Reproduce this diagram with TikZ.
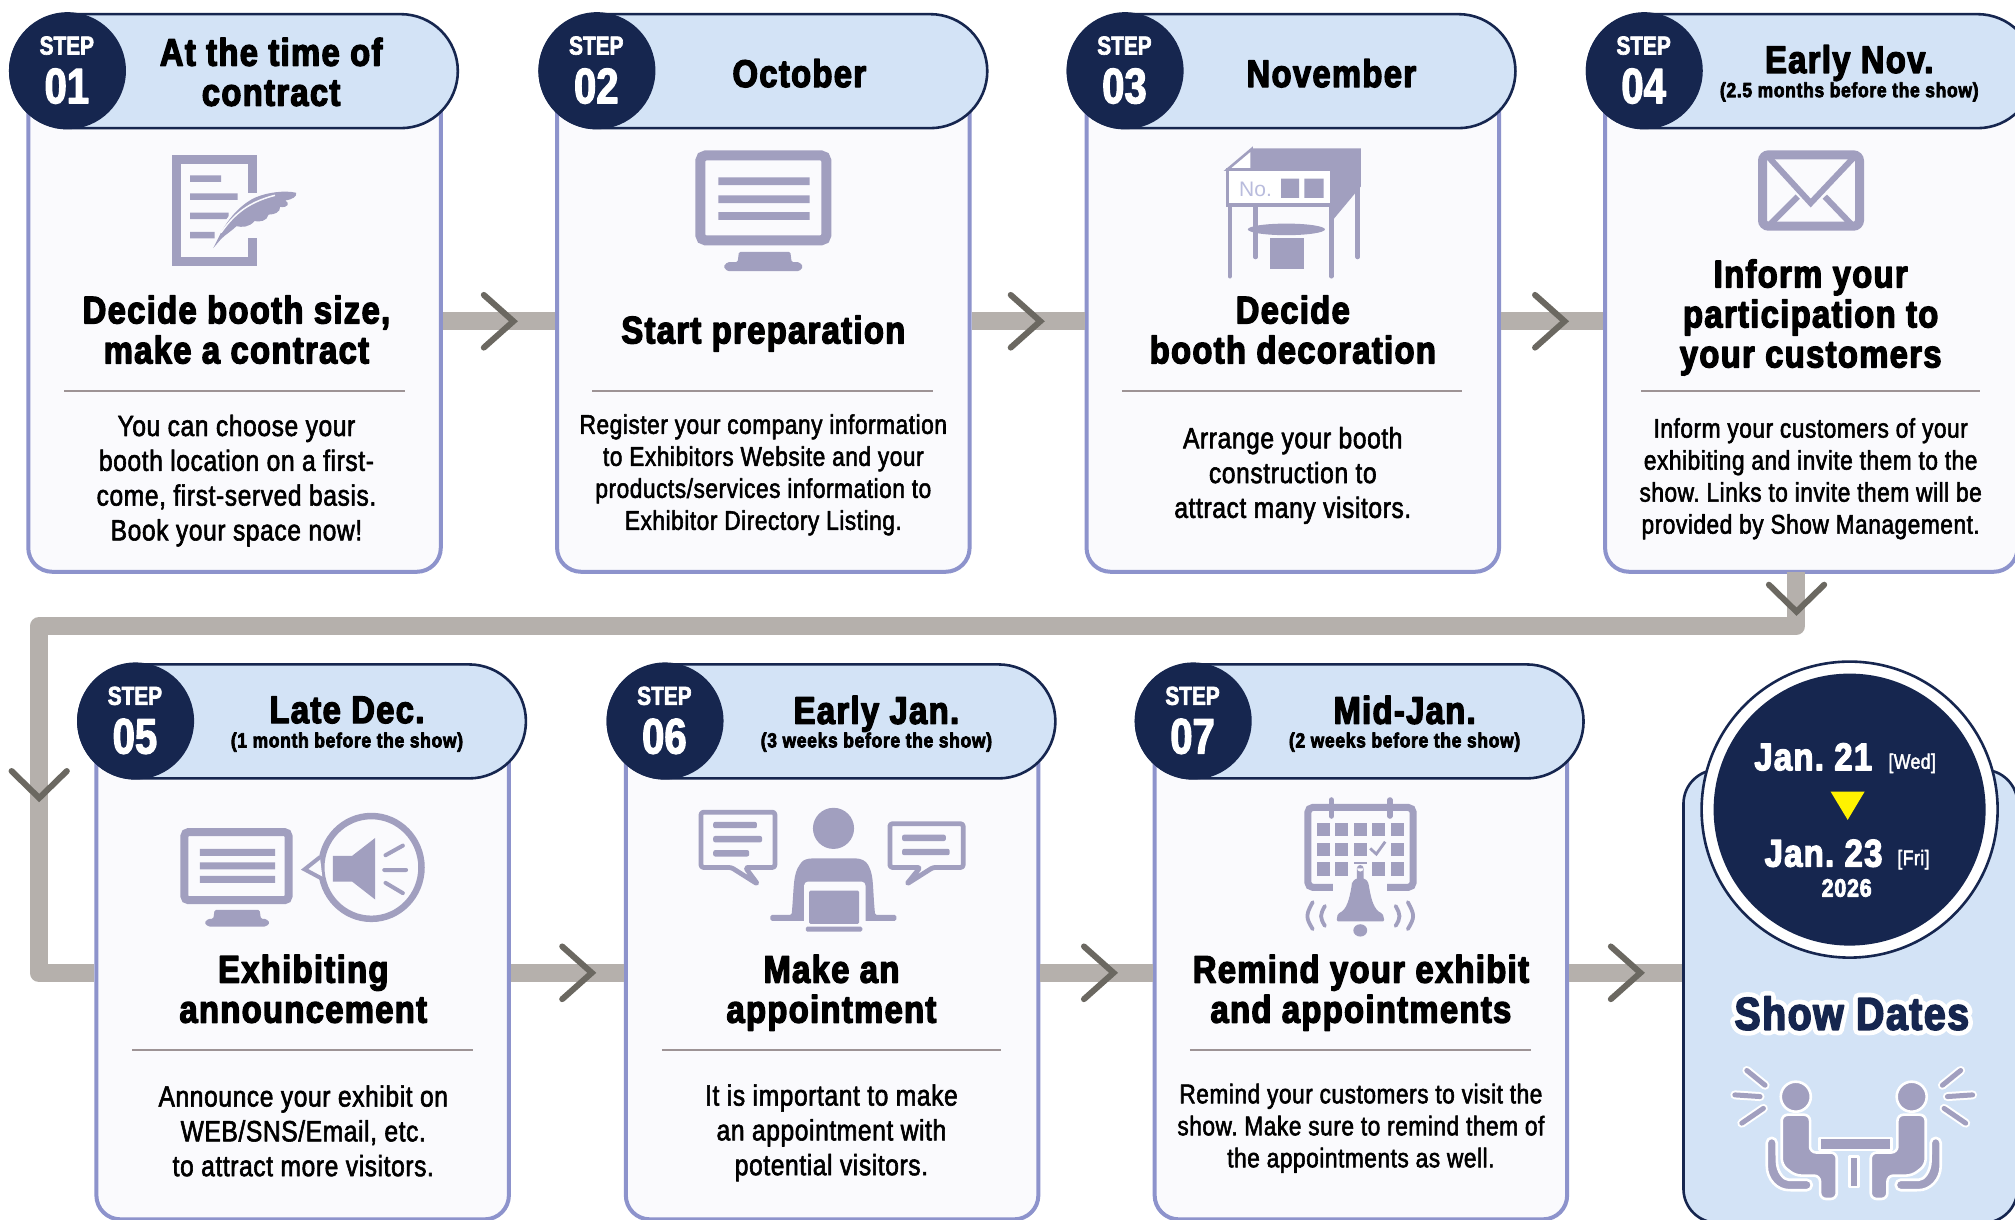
\documentclass[tikz,border=0pt]{standalone}
\usepackage{fontspec}
\setmainfont{Liberation Sans}
\newfontfamily\hdfont[UprightFont={* Bold},BoldFont={* Bold},FakeStretch=.85,LetterSpace=3.5,FakeBold=3.5]{Liberation Sans}
\newfontfamily\nmfont[UprightFont={* Bold},BoldFont={* Bold},FakeStretch=.8,FakeBold=2.5]{Liberation Sans}
\newfontfamily\olfont[UprightFont={* Bold},BoldFont={* Bold},FakeStretch=.85,LetterSpace=3.5,FakeBold=24]{Liberation Sans}
\newfontfamily\bdfont[FakeStretch=.84,LetterSpace=2,FakeBold=2]{Liberation Sans}
\definecolor{navy}{HTML}{16264F}
\definecolor{pillc}{HTML}{D3E3F6}
\definecolor{cardc}{HTML}{FAFAFD}
\definecolor{cardb}{HTML}{8D93CC}
\definecolor{iconc}{HTML}{A19FBF}
\definecolor{connc}{HTML}{B5B0AC}
\definecolor{chevc}{HTML}{6B6861}
\definecolor{rulec}{HTML}{9D9395}
\definecolor{noc}{HTML}{B9BCDD}
\definecolor{sun}{HTML}{FFF200}
\tikzset{
 cardbox/.style={draw=cardb,fill=cardc,line width=4pt,rounded corners=24pt,minimum width=412.5pt,inner sep=0pt},
 pillbox/.style={draw=navy,fill=pillc,line width=2.6pt,rounded corners=57pt,minimum width=447.5pt,minimum height=114pt,inner sep=0pt},
 badge/.style={circle,fill=navy,minimum size=117pt,inner sep=0pt},
 steplbl/.style={text=white,font=\nmfont\fontsize{26}{26}\selectfont,inner sep=0pt},
 numlbl/.style={text=white,font=\nmfont\fontsize{50}{50}\selectfont,inner sep=0pt},
 datehead/.style={align=center,inner sep=0pt,font=\hdfont\fontsize{38.5}{40}\selectfont},
 subhead/.style={align=center,inner sep=0pt,font=\hdfont\fontsize{20.5}{22}\selectfont},
 title/.style={align=center,inner sep=0pt,font=\hdfont\fontsize{38.5}{40}\selectfont},
 bodya/.style={align=center,inner sep=0pt,font=\bdfont\fontsize{29.3}{34.8}\selectfont},
 bodyb/.style={align=center,inner sep=0pt,font=\bdfont\fontsize{27}{32}\selectfont},
 rulel/.style={draw=rulec,line width=2pt},
 conn/.style={draw=connc,line width=18pt,line join=round},
 chev/.style={draw=chevc,line width=6pt,line cap=round,line join=miter},
 icon/.style={fill=iconc,draw=none},
 iconl/.style={draw=iconc,fill=none,line join=miter},
 hl/.style={fill=cardc,draw=none},
 bodyicon/.style={fill=iconc,draw=white,line width=2.6pt,line join=round},
}
\newcommand{\StepFrame}[5]{% id, card left, pill left, card center y, step no
  \node[cardbox,minimum height=#4,anchor=center] (card#1) at ({#2+160.5},#5) {};
}
\newcommand{\PillBadge}[4]{% id, pill left, pill top, number
  \node[pillbox,anchor=north west] (pill#1) at (#2,#3) {};
  \node[badge] (badge#1) at ({#2+45.5},{#3+45}) {};
  \node[steplbl] (stepw#1) at ({#2+45},{#3+25.5}) {STEP};
  \node[numlbl] (stepn#1) at ({#2+45},{#3+57}) {#4};
}
\begin{document}
\frenchspacing
\begin{tikzpicture}[x=1.285pt,y=-1.285pt,line join=round]
\useasboundingbox (0,0) rectangle (1568,948.6);
\clip (0,0) rectangle (1568,948.6);
\fill[white] (0,0) rectangle (1568,948.6);
% cards
\StepFrame{1}{22}{}{501pt}{250}
\StepFrame{2}{433.5}{}{501pt}{250}
\StepFrame{3}{845.5}{}{501pt}{250}
\StepFrame{4}{1249}{}{501pt}{250}
\StepFrame{5}{75}{}{493pt}{757}
\StepFrame{6}{487}{}{493pt}{757}
\StepFrame{7}{898.5}{}{493pt}{757}
% connectors
\coordinate (d1) at (1397.5,445);
\coordinate (d2) at (1397.5,487.5);
\coordinate (d3) at (30,487.5);
\coordinate (d4) at (30,757);
\draw[conn] (d1) -- (d2) -- (d3) -- (d4) -- (card5.west);
\draw[conn] (card1.east) -- (card2.west);
\draw[conn] (card2.east) -- (card3.west);
\draw[conn] (card3.east) -- (card4.west);
\draw[conn] (card5.east) -- (card6.west);
\draw[conn] (card6.east) -- (card7.west);
% show card
\node[draw=navy,fill=pillc,line width=2.6pt,rounded corners=34pt,minimum width=334pt,minimum height=453pt,inner sep=0pt,anchor=north west] (show) at (1309,598) {};
\draw[conn] (card7.east) -- (card7.east -| show.west);
% chevrons
\foreach \n/\tx/\ty in {c1/399.5/250,c2/809.5/250,c3/1217.5/250,c5/460.5/757,c6/866.5/757,c7/1276.5/757}{
  \coordinate (\n) at (\tx,\ty);
  \draw[chev] ([shift={(-23,-20.5)}]\n) -- (\n) -- ([shift={(-23,20.5)}]\n);
}
\foreach \n/\tx/\ty in {cd/1398/476,cl/30.5/621}{
  \coordinate (\n) at (\tx,\ty);
  \draw[chev] ([shift={(-21.5,-21)}]\n) -- (\n) -- ([shift={(21.5,-21)}]\n);
}
% pills
\PillBadge{1}{7}{10}{01}
\PillBadge{2}{419}{10}{02}
\PillBadge{3}{830}{10}{03}
\PillBadge{4}{1234}{10}{04}
\PillBadge{5}{60}{516}{05}
\PillBadge{6}{472}{516}{06}
\PillBadge{7}{883}{516}{07}
% pill text
\node[datehead] (h1) at (211,56) {At the time of\\contract};
\node[datehead] (h2) at (622,57) {October};
\node[datehead] (h3) at (1036,57) {November};
\node[datehead] (h4) at (1439,49) {Early Nov.};
\node[subhead] (s4) at (1439,71.5) {(2.5 months before the show)};
\node[datehead] (h5) at (270,552.5) {Late Dec.};
\node[subhead] (s5) at (270,577.5) {(1 month before the show)};
\node[datehead] (h6) at (682,555.5) {Early Jan.};
\node[subhead] (s6) at (682,577.5) {(3 weeks before the show)};
\node[datehead] (h7) at (1093,552.5) {Mid-Jan.};
\node[subhead] (s7) at (1093,577.5) {(2 weeks before the show)};
% titles
\node[title] (t1) at (184,256.5) {Decide booth size,\\make a contract};
\node[title] (t2) at (594,259.5) {Start preparation};
\node[title] (t3) at (1006,256.5) {Decide\\booth decoration};
\node[title] (t4) at (1409,247) {Inform your\\participation to\\your customers};
\node[title] (t5) at (236,769.5) {Exhibiting\\announcement};
\node[title] (t6) at (647,772.5) {Make an\\appointment};
\node[title] (t7) at (1059,772.5) {Remind your exhibit\\and appointments};
% rules
\foreach \n/\a/\b/\y in {1/50/315/304,2/461/726/304,3/873/1138/304,4/1277/1541/304,5/103/368/817,6/515/779/817,7/926/1191/817}{
  \draw[rulel] (\a,\y) -- (\b,\y);
}
% bodies
\node[bodya] (b1) at (184,374) {You can choose your\\booth location on a first-\\come, first-served basis.\\Book your space now!};
\node[bodyb] (b2) at (594,369.5) {Register your company information\\to Exhibitors Website and your\\products/services information to\\Exhibitor Directory Listing.};
\node[bodya] (b3) at (1006,370) {Arrange your booth\\construction to\\attract many visitors.};
\node[bodyb] (b4) at (1409,372.5) {Inform your customers of your\\exhibiting and invite them to the\\show. Links to invite them will be\\provided by Show Management.};
\node[bodya] (b5) at (236,880) {Announce your exhibit on\\WEB/SNS/Email, etc.\\to attract more visitors.};
\node[bodya] (b6) at (647,881.5) {It is important to make\\an appointment with\\potential visitors.};
\node[bodyb] (b7) at (1059,878) {Remind your customers to visit the\\show. Make sure to remind them of\\the appointments as well.};
% icon 1: document and feather
\draw[iconl,line width=9pt] (196.5,150) -- (196.5,124) -- (137.5,124) -- (137.5,203.5) -- (196.5,203.5) -- (196.5,185);
\fill[icon] (148,136.5) rectangle (172,141.5) (148,150.5) rectangle (185,155.5) (148,165.5) rectangle (178,170.5) (148,180.5) rectangle (167,185.5);
\path[hl,draw=cardc,line width=5pt] (170,185) .. controls (176,172) and (186,160) .. (198,154) .. controls (208,149.5) and (222,148) .. (230.5,150) .. controls (231,153) and (228,155) .. (222,156) .. controls (226,158) and (224,162) .. (218,161) .. controls (218,165) and (214,167) .. (209,167) .. controls (208,172) and (202,173) .. (198,172) .. controls (194,177) and (188,177) .. (184,176) .. controls (180,180) and (176,182) .. (172,186) -- cycle;
\fill[icon] (166,193) -- (170,185) .. controls (176,172) and (186,160) .. (198,154) .. controls (208,149.5) and (222,148) .. (230.5,150) .. controls (231,153) and (228,155) .. (222,156) .. controls (226,158) and (224,162) .. (218,161) .. controls (218,165) and (214,167) .. (209,167) .. controls (208,172) and (202,173) .. (198,172) .. controls (194,177) and (188,177) .. (184,176) .. controls (180,180) and (176,182) .. (172,186) -- cycle;
\draw[cardc,line width=1.5pt] (172,181) .. controls (180,170) and (190,158) .. (214,152);
% icon 2: monitor
\draw[iconl,line width=10pt,rounded corners=5pt] (545,121) rectangle (643,187);
\fill[icon] (559,138) rectangle (630,144) (559,152) rectangle (630,158) (559,165) rectangle (630,171);
\fill[icon,rounded corners=1.5pt] (575,196) -- (615,196) -- (616,204) -- (622,204) -- (625,207.5) -- (622,211) -- (566,211) -- (563,207.5) -- (566,204) -- (574,204) -- cycle;
% icon 3: booth
\draw[iconl,line width=4.5pt,line cap=round] (957,159.5) -- (957,215) (1036,159.5) -- (1036,215) (977,159.5) -- (977,200) (1056.5,145) -- (1056.5,200);
\fill[icon] (974,115.4) -- (1059,115.4) -- (1059,145) -- (1036.5,172) -- (1036.5,132) -- (974,132) -- cycle;
\draw[iconl,fill=white,line width=2.6pt] (974,116) -- (955,132) -- (974,132) -- cycle;
\draw[iconl,fill=white,line width=3.2pt] (955,132) rectangle (1036.5,159.5);
\node[text=noc,inner sep=0pt,font=\fontsize{21}{21}\selectfont] (no3) at (977,147) {No.};
\fill[icon] (997,139) rectangle (1011,154) (1015,139) rectangle (1030,154);
\fill[icon] (1001,178.5) ellipse [x radius=30,y radius=4.5];
\fill[icon] (988,185) rectangle (1015,209);
% icon 4: envelope
\draw[iconl,line width=9pt,rounded corners=6pt] (1371.5,120.5) rectangle (1447,176);
\draw[iconl,line width=6pt] (1376,122) -- (1409,158) -- (1443,122) (1376,176) -- (1399,153) (1442,176) -- (1420,153);
% icon 5: monitor and speaker
\draw[iconl,line width=8pt,rounded corners=4pt] (143.5,647.5) rectangle (224.5,700.5);
\fill[icon] (155.5,660.5) rectangle (214,666) (155.5,671) rectangle (214,676.5) (155.5,681.5) rectangle (214,687);
\fill[icon,rounded corners=1.5pt] (167,708) -- (202,708) -- (203,715) -- (207,715) -- (210,718) -- (207,721) -- (162,721) -- (159,718) -- (162,715) -- (166,715) -- cycle;
\draw[iconl,line width=6.5pt] (289,675) ellipse [x radius=39,y radius=40];
\draw[iconl,fill=cardc,line width=4pt] (249,667) -- (237,676.5) -- (251,684);
\fill[icon] (259,666) -- (274,666) -- (292,652) -- (292,700) -- (274,686) -- (259,686) -- cycle;
\draw[iconl,line width=4pt,line cap=round] (300,665.5) -- (313.5,658) (299,677) -- (316,677) (300,687) -- (313.5,695);
% icon 6: person with bubbles
\draw[iconl,line width=4.8pt,rounded corners=2.5pt,line join=round] (569,675) -- (545.5,675) -- (545.5,632) -- (603,632) -- (603,675) -- (580,675) -- (589.6,688) -- cycle;
\fill[icon,rounded corners=2pt] (555,639.5) rectangle (589,644.5) (555,650.5) rectangle (593,655.5) (555,661.5) rectangle (583,666.5);
\draw[iconl,line width=4.8pt,rounded corners=2.5pt,line join=round] (726,675) -- (749.5,675) -- (749.5,641) -- (692.5,641) -- (692.5,675) -- (716,675) -- (705.5,688) -- cycle;
\fill[icon,rounded corners=2pt] (702,649.5) rectangle (736,654.5) (702,660.5) rectangle (739,665.5);
\fill[icon] (648.6,644.6) ellipse [x radius=16,y radius=16];
\fill[icon,rounded corners=1.5pt] (599.5,712) -- (616,712) .. controls (618,690) and (617,680) .. (623,672) .. controls (625,669) and (629,668) .. (633,668) -- (665,668) .. controls (670,668) and (674,670) .. (676,674) .. controls (680,682) and (679,692) .. (681,712) -- (697.6,712) -- (697.6,716.5) -- (599.5,716.5) -- cycle;
\fill[hl,rounded corners=4pt] (625.7,686) rectangle (673.5,722);
\fill[icon,rounded corners=1.5pt] (629.6,693) rectangle (668.6,719);
\fill[icon,rounded corners=1.5pt] (627,721) rectangle (671,725);
% icon 7: calendar with bell
\draw[iconl,line width=7pt,rounded corners=5pt] (1017.7,628.3) rectangle (1099.7,690.5);
\draw[iconl,line width=5.5pt,line cap=round] (1036,622.5) -- (1036,635) (1081.5,622.5) -- (1081.5,635);
\foreach \cx in {1024.7,1039,1053.7,1068,1082.5}{
  \fill[icon] (\cx,640.2) rectangle ++(10,10.4);
  \fill[icon] (\cx,671) rectangle ++(10,10.5);
}
\foreach \cx in {1024.7,1039,1053.7,1082.5}{
  \fill[icon] (\cx,655.8) rectangle ++(10,10.2);
}
\draw[iconl,line width=2.8pt] (1066.2,660.2) -- (1071,664.6) -- (1077.9,655);
\fill[hl] (1037.2,682) rectangle (1079.6,696);
\fill[hl] (1053,672) rectangle (1064,684);
\fill[icon] (1055.9,675.7) rectangle (1061.1,686) (1058.5,675.7) circle [radius=2.6];
\fill[icon,rounded corners=1.5pt] (1052,688) .. controls (1050,700) and (1048,708) .. (1041,711) -- (1040,717) -- (1077.4,717) -- (1076,711) .. controls (1069,708) and (1067,700) .. (1065,688) .. controls (1063,682) and (1054,682) .. (1052,688) -- cycle;
\fill[icon] (1058.5,724) ellipse [x radius=5.4,y radius=4.8];
\draw[iconl,line width=3.8pt,line cap=round] (1021.5,702) .. controls (1016,712) and (1016,714) .. (1021.5,723) (1031,705) .. controls (1027,712) and (1027,714) .. (1031,720.5) (1095.5,702) .. controls (1101,712) and (1101,714) .. (1095.5,723) (1086,705) .. controls (1090,712) and (1090,714) .. (1086,720.5);
% date disc
\node[circle,draw=navy,fill=white,line width=2.6pt,minimum size=296pt,inner sep=0pt] (discout) at (1439.3,630) {};
\node[circle,fill=navy,minimum size=272pt,inner sep=0pt] (disc) at (1439.3,630) {};
\node[text=white,inner sep=0pt,font=\hdfont\fontsize{38.5}{40}\selectfont] (d21) at (1411,589) {Jan. 21};
\node[text=white,inner sep=0pt,font=\bdfont\fontsize{21}{21}\selectfont] (w21) at (1488,594) {[Wed]};
\fill[sun] (1424.5,616) -- (1451,616) -- (1437.8,638) -- cycle;
\node[text=white,inner sep=0pt,font=\hdfont\fontsize{38.5}{40}\selectfont] (d23) at (1419,664) {Jan. 23};
\node[text=white,inner sep=0pt,font=\bdfont\fontsize{21}{21}\selectfont] (w23) at (1489,669) {[Fri]};
\node[text=white,inner sep=0pt,font=\hdfont\fontsize{25}{25}\selectfont] (y26) at (1437,691) {2026};
% show title
\node[text=navy,inner sep=0pt,font=\fontsize{46}{46}\selectfont] (showt) at (1441,788.5) {\rlap{\textcolor{white}{\olfont Show Dates}}{\hdfont Show Dates}};
% show icon
\foreach \sc in {0,1}{
\begin{scope}[shift={(\sc*2885,0)},xscale={1-2*\sc}]
  \draw[bodyicon] (1397.4,853.4) circle [radius=11.7];
  \draw[bodyicon,rounded corners=5pt] (1374.8,885.4) -- (1382.6,885.4) -- (1382.6,900) .. controls (1383,912) and (1388,918) .. (1395.6,918) -- (1409.8,918) -- (1409.8,926.2) -- (1395.6,926.2) .. controls (1383,926) and (1374.8,918) .. (1374.8,903.3) -- cycle;
  \draw[bodyicon,rounded corners=6pt] (1386.5,875.5) -- (1386.5,867.4) -- (1408.5,867.4) -- (1408.5,896.8) -- (1429.3,896.8) -- (1429.3,933) -- (1416.3,933) -- (1416.3,914.8) -- (1397,914.8) -- (1386.5,906.6) -- cycle;
  \draw[white,line width=9pt,line cap=round] (1359.3,833) -- (1373.5,844.5) (1350,852) -- (1369.6,853.3) (1355.4,874) -- (1372.2,862.5);
  \draw[iconc,line width=5pt,line cap=round] (1359.3,833) -- (1373.5,844.5) (1350,852) -- (1369.6,853.3) (1355.4,874) -- (1372.2,862.5);
\end{scope}
}
\draw[bodyicon] (1415.8,885.4) rectangle (1472,895);
\draw[bodyicon] (1439,900) rectangle (1446.4,923.6);
\end{tikzpicture}
\end{document}
